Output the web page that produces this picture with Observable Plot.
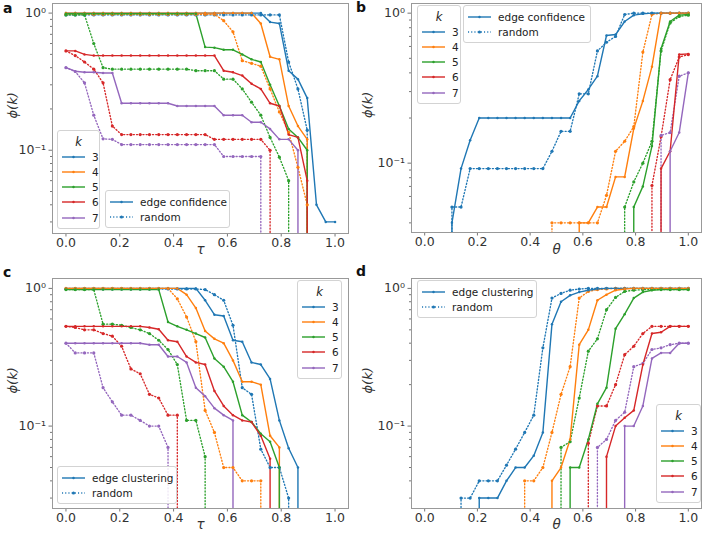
<!DOCTYPE html>
<html><head><meta charset="utf-8">
<script src="https://cdn.jsdelivr.net/npm/d3@7"></script>
<script src="https://cdn.jsdelivr.net/npm/@observablehq/plot@0.6"></script>
<style>
body{margin:0;background:#fff;font-family:"DejaVu Sans",sans-serif;}
#fig{position:relative;width:709px;height:534px;overflow:hidden;background:#fff;}
.panel{position:absolute;}
.plabel{position:absolute;font-weight:bold;font-size:14px;line-height:14px;color:#111;}
.legend{position:absolute;border:1px solid #d3d3d3;border-radius:3px;background:rgba(255,255,255,0.85);font-size:10.5px;color:#222;padding:3px 0 3px 4px;box-sizing:content-box;}
.legend .row{height:15.2px;display:flex;align-items:center;white-space:nowrap;}
.legend .row svg{flex:none;margin-right:7px;}
.legend .ttl{height:15.2px;display:flex;align-items:center;justify-content:center;font-style:italic;font-size:11.5px;padding-right:4px;}
</style></head>
<body><div id="fig"></div>
<script>
// ---------- data ----------
const thresholds = [0, 0.0345, 0.069, 0.1034, 0.1379, 0.1724, 0.2069, 0.2414, 0.2759, 0.3103,
  0.3448, 0.3793, 0.4138, 0.4483, 0.4828, 0.5172, 0.5517, 0.5862, 0.6207, 0.6552,
  0.6897, 0.7241, 0.7586, 0.7931, 0.8276, 0.8621, 0.8966, 0.931, 0.9655, 1];
const ks = [3, 4, 5, 6, 7];
const palette = ["#1f77b4", "#ff7f0e", "#2ca02c", "#d62728", "#9467bd"];
const xTicks = [0, 0.2, 0.4, 0.6, 0.8, 1.0];
const yMajorTicks = [0.1, 1];
const yMajorLabels = ["10⁻¹", "10⁰"];

// panel a : tau, edge confidence vs random
const aConf3 = [1,1,1,1,1,1,1,1,1,1, 1,1,1,1,1,1,1,1,1,1, 1,1,0.86,0.84,0.38,0.33,0.24,0.04,0.03,0.03];
const aConf4 = [1,1,1,1,1,1,1,1,1,1, 1,1,1,1,1,1,1,1,1,1, 1,0.84,0.48,0.46,0.21,0.15,0.12,0,0,0];
const aConf5 = [0.99,0.99,0.99,0.99,0.99,0.99,0.99,0.99,0.99,0.99, 0.99,0.99,0.99,0.99,0.99,0.565,0.56,0.54,0.54,0.5, 0.46,0.44,0.3,0.21,0.143,0.124,0.1,0,0,0];
const aConf6 = [0.53,0.53,0.5,0.49,0.49,0.49,0.49,0.49,0.49,0.49, 0.49,0.49,0.49,0.49,0.49,0.49,0.49,0.38,0.37,0.35, 0.305,0.28,0.22,0.21,0.13,0.124,0.06,0,0,0];
const aConf7 = [0.4,0.377,0.37,0.37,0.366,0.366,0.22,0.22,0.22,0.22, 0.22,0.22,0.21,0.21,0.21,0.21,0.21,0.18,0.18,0.18, 0.16,0.16,0.143,0.12,0.12,0.1,0,0,0,0];
const aRand3 = [0.97,0.97,0.97,0.97,0.97,0.97,0.97,0.97,0.97,0.97, 0.97,0.97,0.97,0.97,0.97,0.97,0.97,0.97,0.97,0.97, 0.97,0.97,0.97,0.97,0.44,0.28,0.14,0,0,0];
const aRand4 = [0.98,0.98,0.98,0.98,0.98,0.98,0.98,0.98,0.98,0.98, 0.98,0.98,0.98,0.98,0.98,0.98,0.98,0.88,0.73,0.45, 0.43,0.41,0.28,0.19,0.135,0.075,0.04,0,0,0];
const aRand5 = [0.97,0.97,0.97,0.6,0.4,0.39,0.39,0.39,0.39,0.39, 0.39,0.39,0.39,0.39,0.38,0.38,0.38,0.33,0.33,0.28, 0.224,0.18,0.124,0.089,0.06,0,0,0,0,0];
const aRand6 = [0.53,0.49,0.44,0.39,0.31,0.15,0.13,0.13,0.13,0.13, 0.13,0.13,0.13,0.13,0.13,0.13,0.12,0.12,0.12,0.12, 0.12,0.12,0.1,0,0,0,0,0,0,0];
const aRand7 = [0.4,0.375,0.31,0.18,0.121,0.12,0.11,0.11,0.11,0.11, 0.11,0.11,0.11,0.11,0.11,0.11,0.11,0.09,0.09,0.09, 0.09,0.09,0,0,0,0,0,0,0,0];

// panel b : theta, edge confidence vs random
const bConf3 = [0,0,0,0.04,0.092,0.142,0.2,0.2,0.2,0.2, 0.2,0.2,0.2,0.2,0.2,0.2,0.2,0.26,0.31,0.38, 0.71,0.72,0.88,0.97,0.99,1,1,1,1,1];
const bConf4 = [0,0,0,0,0,0,0,0,0,0, 0,0,0,0,0,0,0,0.04,0.04,0.051, 0.051,0.081,0.081,0.17,0.26,0.44,1,1,1,1];
const bConf5 = [0,0,0,0,0,0,0,0,0,0, 0,0,0,0,0,0,0,0,0,0, 0,0,0,0.051,0.07,0.13,0.58,0.88,0.97,0.98];
const bConf6 = [0,0,0,0,0,0,0,0,0,0, 0,0,0,0,0,0,0,0,0,0, 0,0,0,0,0,0,0.092,0.12,0.53,0.535];
const bConf7 = [0,0,0,0,0,0,0,0,0,0, 0,0,0,0,0,0,0,0,0,0, 0,0,0,0,0,0,0,0.12,0.16,0.4];
const bRand3 = [0,0,0,0.051,0.051,0.092,0.092,0.092,0.092,0.092, 0.092,0.092,0.092,0.092,0.12,0.163,0.163,0.29,0.29,0.56, 0.64,0.7,0.98,1,1,1,1,1,1,1];
const bRand4 = [0,0,0,0,0,0,0,0,0,0, 0,0,0,0,0.04,0.04,0.04,0.04,0.04,0.04, 0.061,0.12,0.14,0.175,0.55,0.98,1,1,1,1];
const bRand5 = [0,0,0,0,0,0,0,0,0,0, 0,0,0,0,0,0,0,0,0,0, 0,0,0.051,0.075,0.1,0.14,0.56,0.86,0.95,0.97];
const bRand6 = [0,0,0,0,0,0,0,0,0,0, 0,0,0,0,0,0,0,0,0,0, 0,0,0,0,0,0.071,0.15,0.36,0.51,0.53];
const bRand7 = [0,0,0,0,0,0,0,0,0,0, 0,0,0,0,0,0,0,0,0,0, 0,0,0,0,0,0,0.153,0.16,0.38,0.4];

// panel c : tau, edge clustering vs random
const cConf3 = [1,1,1,1,1,1,1,1,1,1, 1,1,1,1,1,0.82,0.644,0.63,0.42,0.41, 0.29,0.28,0.22,0.11,0.069,0.05,0,0,0,0];
const cConf4 = [1,1,1,1,1,1,1,1,1,1, 1,1,1,0.9,0.72,0.49,0.43,0.4,0.3,0.21, 0.21,0.2,0.085,0.07,0,0,0,0,0,0];
const cConf5 = [0.98,0.98,0.98,0.98,0.98,0.98,0.98,0.98,0.98,0.98, 0.98,0.57,0.53,0.5,0.47,0.44,0.31,0.27,0.21,0.12, 0.107,0.088,0.077,0.05,0,0,0,0,0,0];
const cConf6 = [0.53,0.53,0.53,0.53,0.53,0.53,0.53,0.53,0.53,0.52, 0.505,0.42,0.41,0.32,0.29,0.28,0.18,0.14,0.12,0.11, 0.107,0.085,0.058,0,0,0,0,0,0,0];
const cConf7 = [0.4,0.4,0.4,0.4,0.4,0.4,0.4,0.4,0.4,0.39, 0.39,0.32,0.32,0.29,0.19,0.165,0.135,0.12,0.11,0, 0,0,0,0,0,0,0,0,0,0];
const cRand3 = [0.99,0.99,0.99,0.99,0.99,0.99,0.99,0.99,0.99,0.99, 0.99,0.99,0.99,0.99,0.99,0.98,0.9,0.82,0.54,0.19, 0.17,0.068,0.05,0.05,0.03,0,0,0,0,0];
const cRand4 = [1,1,1,1,1,1,1,1,1,1, 1,1,0.84,0.62,0.41,0.13,0.09,0.05,0.05,0.04, 0.04,0.04,0,0,0,0,0,0,0,0];
const cRand5 = [0.98,0.98,0.98,0.98,0.55,0.55,0.54,0.52,0.5,0.47, 0.42,0.36,0.28,0.11,0.11,0.06,0,0,0,0, 0,0,0,0,0,0,0,0,0,0];
const cRand6 = [0.53,0.52,0.5,0.5,0.47,0.45,0.38,0.26,0.24,0.17, 0.16,0.12,0.12,0,0,0,0,0,0,0, 0,0,0,0,0,0,0,0,0,0];
const cRand7 = [0.4,0.34,0.34,0.34,0.19,0.15,0.12,0.12,0.11,0.1, 0.1,0.07,0,0,0,0,0,0,0,0, 0,0,0,0,0,0,0,0,0,0];

// panel d : theta, edge clustering vs random
const dConf3 = [0,0,0,0,0,0,0.03,0.03,0.03,0.04, 0.05,0.05,0.061,0.09,0.55,0.8,0.89,0.94,0.97,0.99, 1,1,1,1,1,1,1,1,1,1];
const dConf4 = [0,0,0,0,0,0,0,0,0,0, 0,0,0,0,0.04,0.05,0.08,0.39,0.5,0.82, 0.9,0.97,0.99,1,1,1,1,1,1,1];
const dConf5 = [0,0,0,0,0,0,0,0,0,0, 0,0,0,0,0,0,0.05,0.05,0.08,0.145, 0.19,0.51,0.65,0.85,0.94,0.97,0.98,0.98,0.98,0.98];
const dConf6 = [0,0,0,0,0,0,0,0,0,0, 0,0,0,0,0,0,0,0,0,0, 0.06,0.1,0.115,0.13,0.28,0.47,0.48,0.53,0.53,0.53];
const dConf7 = [0,0,0,0,0,0,0,0,0,0, 0,0,0,0,0,0,0,0,0,0, 0,0,0.1,0.1,0.14,0.31,0.34,0.34,0.4,0.4];
const dRand3 = [0,0,0,0,0.03,0.03,0.04,0.04,0.04,0.052, 0.068,0.09,0.12,0.37,0.85,0.92,0.97,0.99,1,1, 1,1,1,1,1,1,1,1,1,1];
const dRand4 = [0,0,0,0,0,0,0,0,0,0, 0,0.04,0.04,0.05,0.09,0.17,0.27,0.85,0.95,0.98, 0.99,1,1,1,1,1,1,1,1,1];
const dRand5 = [0,0,0,0,0,0,0,0,0,0, 0,0,0,0,0,0.07,0.077,0.16,0.35,0.43, 0.7,0.86,0.95,0.97,0.98,0.98,0.98,0.98,0.98,0.98];
const dRand6 = [0,0,0,0,0,0,0,0,0,0, 0,0,0,0,0,0,0,0,0.075,0.14, 0.14,0.2,0.33,0.38,0.47,0.53,0.53,0.53,0.53,0.53];
const dRand7 = [0,0,0,0,0,0,0,0,0,0, 0,0,0,0,0,0,0,0,0,0.07, 0.08,0.11,0.126,0.27,0.285,0.36,0.37,0.39,0.4,0.4];

// ---------- drawing ----------
const fig = document.getElementById("fig");
const LOG_FLOOR = 1e-300; // non-positive values are clipped far below the axes, as matplotlib does
const DOT_DASH = "1.1,2.1";

function buildRows(conf, rand) {
  const rows = [];
  ks.forEach((k, j) => {
    conf[j].forEach((v, i) => rows.push({x: thresholds[i], v, k, method: "conf"}));
    rand[j].forEach((v, i) => rows.push({x: thresholds[i], v, k, method: "rand"}));
  });
  return rows;
}

function minorTicks(dom) {
  const t = [];
  for (const e of [-2, -1, 0]) for (let m = 2; m <= 9; m++) {
    const v = m * Math.pow(10, e);
    if (v >= dom[0] && v <= dom[1]) t.push(v);
  }
  return t;
}

function panel(p) {
  const rows = buildRows(p.conf, p.rand);
  const solid = rows.filter(d => d.method === "conf");
  const dotted = rows.filter(d => d.method === "rand");
  const yv = d => (d.v > 0 ? d.v : LOG_FLOOR);
  const svg = Plot.plot({
    width: p.width, height: p.height,
    marginTop: p.mt, marginBottom: p.mb, marginLeft: p.ml, marginRight: p.mr,
    style: {fontFamily: "DejaVu Sans, sans-serif", fontSize: "12.5px", color: "#333", background: "transparent", overflow: "visible"},
    x: {domain: [-0.05, 1.05]},
    y: {type: "log", domain: p.ydom},
    color: {type: "ordinal", domain: ks, range: palette},
    marks: [
      Plot.line(dotted, {x: "x", y: yv, z: "k", stroke: "k", strokeWidth: 1.35, strokeDasharray: DOT_DASH, clip: true}),
      Plot.line(solid, {x: "x", y: yv, z: "k", stroke: "k", strokeWidth: 1.4, clip: true}),
      Plot.dot(dotted.filter(d => d.v > 0), {x: "x", y: "v", fill: "k", r: 1.6, clip: true}),
      Plot.dot(solid.filter(d => d.v > 0), {x: "x", y: "v", fill: "k", r: 1.25, clip: true}),
      Plot.axisX({ticks: xTicks, tickFormat: d3.format(".1f"), tickSize: 3.5, tickPadding: 1.5, stroke: "#777", label: null}),
      Plot.axisY({ticks: yMajorTicks, tickFormat: d => yMajorLabels[yMajorTicks.indexOf(d)], tickSize: 3.5, tickPadding: 3, stroke: "#777", label: null}),
      Plot.axisY({ticks: minorTicks(p.ydom), tickFormat: () => "", tickSize: 2, stroke: "#777", label: null}),
      Plot.frame({stroke: "#999"}),
      Plot.text([p.xlabel], {text: d => d, frameAnchor: "bottom", dy: p.xdy, fontStyle: "italic", fontSize: 13.5, fill: "#333"}),
      Plot.text(["ϕ(k)"], {text: d => d, frameAnchor: "left", dx: p.ydx, rotate: -90, fontStyle: "italic", fontSize: 13, fill: "#333"})
    ]
  });
  const wrap = document.createElement("div");
  wrap.className = "panel";
  wrap.style.left = p.left + "px";
  wrap.style.top = p.top + "px";
  wrap.appendChild(svg);
  fig.appendChild(wrap);

  const lab = document.createElement("div");
  lab.className = "plabel";
  lab.textContent = p.tag;
  lab.style.left = p.tagPos[0] + "px";
  lab.style.top = p.tagPos[1] + "px";
  fig.appendChild(lab);
}

function swatch(color, dashed, r) {
  return `<svg width="23" height="8"><line x1="0" y1="4" x2="23" y2="4" stroke="${color}" stroke-width="1.4"${dashed ? ` stroke-dasharray="${DOT_DASH}"` : ""}/><circle cx="11.5" cy="4" r="${r}" fill="${color}"/></svg>`;
}

function kLegend(left, top, width) {
  const div = document.createElement("div");
  div.className = "legend";
  div.style.left = left + "px"; div.style.top = top + "px"; div.style.width = (width - 6) + "px";
  let html = `<div class="ttl">k</div>`;
  ks.forEach((k, j) => { html += `<div class="row">${swatch(palette[j], false, 1.25)}<span>${k}</span></div>`; });
  div.innerHTML = html;
  fig.appendChild(div);
}

function methodLegend(left, top, width, name) {
  const div = document.createElement("div");
  div.className = "legend";
  div.style.left = left + "px"; div.style.top = top + "px"; div.style.width = (width - 6) + "px";
  div.innerHTML = `<div class="row">${swatch(palette[0], false, 1.25)}<span>${name}</span></div>` +
                  `<div class="row">${swatch(palette[0], true, 1.6)}<span>random</span></div>`;
  fig.appendChild(div);
}

panel({tag: "a", tagPos: [3, 1], left: 0, top: 0, width: 354, height: 267, mt: 3, mb: 34, ml: 52, mr: 6,
  ydom: [0.0247, 1.175], xlabel: "τ", xdy: 20, ydx: -40,
  conf: [aConf3, aConf4, aConf5, aConf6, aConf7], rand: [aRand3, aRand4, aRand5, aRand6, aRand7]});
panel({tag: "b", tagPos: [356, 0], left: 354, top: 0, width: 355, height: 267, mt: 3, mb: 35, ml: 57, mr: 8,
  ydom: [0.0345, 1.16], xlabel: "θ", xdy: 21, ydx: -44,
  conf: [bConf3, bConf4, bConf5, bConf6, bConf7], rand: [bRand3, bRand4, bRand5, bRand6, bRand7]});
panel({tag: "c", tagPos: [3, 265], left: 0, top: 265, width: 354, height: 269, mt: 13, mb: 26, ml: 52, mr: 6,
  ydom: [0.0252, 1.18], xlabel: "τ", xdy: 20, ydx: -40,
  conf: [cConf3, cConf4, cConf5, cConf6, cConf7], rand: [cRand3, cRand4, cRand5, cRand6, cRand7]});
panel({tag: "d", tagPos: [356, 264], left: 354, top: 265, width: 355, height: 269, mt: 13, mb: 26, ml: 57, mr: 8,
  ydom: [0.0252, 1.18], xlabel: "θ", xdy: 20, ydx: -44,
  conf: [dConf3, dConf4, dConf5, dConf6, dConf7], rand: [dRand3, dRand4, dRand5, dRand6, dRand7]});

kLegend(57, 130, 43);
methodLegend(105, 190, 125, "edge confidence");
kLegend(417, 5, 44);
methodLegend(463, 5, 128, "edge confidence");
kLegend(297, 280, 45);
methodLegend(57, 466, 120, "edge clustering");
methodLegend(417, 280, 120, "edge clustering");
kLegend(656, 404, 45);
</script></body></html>
